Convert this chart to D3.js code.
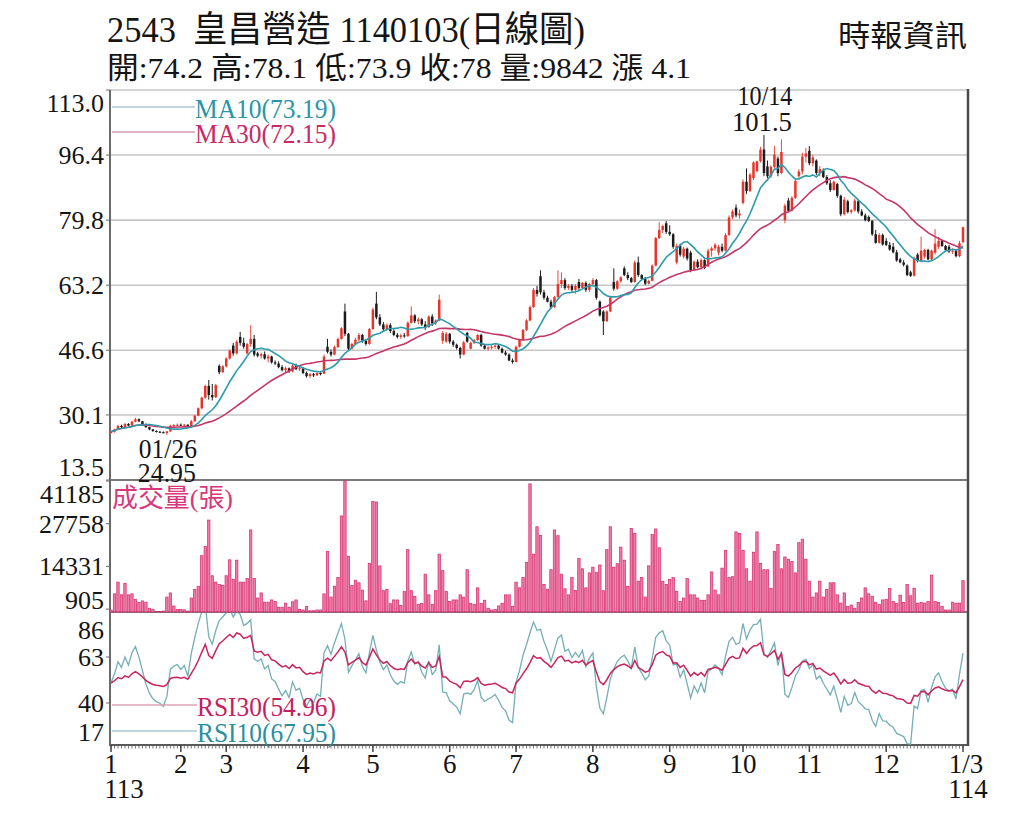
<!DOCTYPE html>
<html>
<head>
<meta charset="utf-8">
<script src="https://cdn.jsdelivr.net/npm/d3@7"></script>
<style>
  body { margin: 0; background: #fff; }
  svg { display: block; }
  text { font-family: "Liberation Serif", "Noto Sans CJK TC", serif; white-space: pre; }
</style>
</head>
<body>
<svg id="chart" width="1024" height="822"></svg>
<script>
// daily candles, [open, high, low, close], 2024-01-02 .. 2025-01-03
const ohlc = [
  // Jan
  [25.6,26.0,25.3,25.8],[25.8,26.6,25.6,26.4],[26.4,27.6,26.2,27.3],[27.3,27.6,26.7,27.0],[27.0,28.0,26.9,27.8],
  [27.8,28.0,27.2,27.4],[27.4,28.6,27.3,28.4],[28.4,29.4,28.2,29.0],[29.0,29.2,28.3,28.5],[28.5,28.6,27.6,27.8],
  [27.8,27.9,26.8,27.0],[27.0,27.1,26.2,26.4],[26.4,26.5,25.8,26.0],[26.0,26.2,25.6,25.8],[25.8,26.0,25.5,25.7],
  [25.7,25.9,25.4,25.5],[25.5,26.0,24.95,25.9],[25.9,27.6,25.8,27.3],[27.3,27.8,27.0,27.5],[27.5,27.9,27.2,27.6],
  // Feb
  [27.6,27.9,27.3,27.4],[27.4,27.8,27.1,27.6],[27.6,27.7,27.0,27.2],[27.2,28.8,27.1,28.5],[28.5,30.2,28.3,29.9],
  [29.9,32.0,29.8,31.8],[31.8,34.8,31.5,34.5],[34.5,37.8,34.2,37.5],[37.5,39.0,34.0,35.2],[35.2,38.0,33.8,34.6],
  [34.6,38.0,34.4,37.7],[42.6,43.0,40.5,41.0],[41.0,42.8,40.8,42.5],
  // Mar
  [42.5,44.8,42.2,44.5],[44.5,46.8,44.2,46.5],[47.8,48.5,45.2,45.8],[45.8,49.2,45.5,48.8],[50.0,51.3,47.8,48.5],
  [48.5,49.8,47.0,47.5],[45.8,48.5,45.5,48.2],[48.2,53.0,47.5,49.5],[49.5,50.5,45.0,45.5],[45.8,46.2,44.8,45.2],
  [45.2,46.0,44.5,45.6],[45.6,46.3,44.2,44.5],[44.5,45.5,43.5,45.0],[45.0,45.2,43.2,43.5],[43.5,44.0,42.8,43.2],
  [43.2,43.8,42.0,42.3],[42.3,42.8,41.2,41.5],[41.5,42.5,41.0,42.0],[42.0,42.2,40.8,41.2],[41.2,43.0,41.0,42.7],
  [42.7,43.2,41.5,41.8],[41.8,42.5,41.3,42.0],
  // Apr
  [42.0,42.3,40.5,40.8],[40.8,41.2,39.6,40.0],[40.0,40.8,39.5,40.5],[40.5,40.8,39.8,40.2],[40.2,41.0,40.0,40.8],
  [40.8,41.2,40.2,40.6],[40.6,45.5,40.5,45.0],[47.5,49.5,45.8,46.2],[46.2,46.8,45.0,45.5],[45.5,47.8,45.3,47.4],
  [47.4,49.8,47.2,49.5],[49.5,52.5,49.3,52.2],[56.5,58.5,50.2,50.8],[50.8,51.0,46.5,47.0],[47.0,48.5,46.8,48.2],
  [48.2,49.8,48.0,49.3],[49.3,51.0,48.8,50.5],[50.5,50.8,48.5,49.0],[49.0,49.5,47.8,48.2],[48.2,52.3,48.0,52.0],
  // May
  [52.0,57.5,51.8,57.0],[58.5,61.5,54.5,55.0],[55.0,55.8,52.8,53.2],[53.2,53.8,51.5,52.0],[52.0,53.5,51.5,53.0],
  [53.0,53.5,51.0,51.5],[51.5,52.0,50.2,50.5],[50.5,51.0,49.6,50.0],[50.0,50.8,49.5,50.4],[50.4,51.0,49.8,50.2],
  [50.2,54.0,50.0,53.6],[53.6,57.8,53.4,55.5],[55.5,55.8,53.5,54.0],[54.0,55.0,53.2,54.5],[54.5,54.8,52.8,53.2],
  [53.2,54.0,51.8,52.5],[52.5,55.5,52.3,55.2],[55.2,55.8,52.8,53.5],[53.5,54.5,53.0,54.2],[54.2,60.8,54.0,59.5],
  [49.0,51.5,48.2,51.0],[48.8,51.3,48.5,50.8],
  // Jun
  [50.8,51.0,48.3,48.8],[48.8,49.2,47.5,48.0],[48.0,48.3,46.8,47.2],[47.2,47.5,44.5,45.5],[45.5,49.0,45.3,48.6],
  [51.0,51.3,48.5,48.8],[47.0,48.8,46.8,48.5],[48.5,49.5,48.2,49.2],[49.2,50.8,49.0,50.5],[50.5,50.8,47.5,47.8],
  [47.8,48.2,46.8,47.0],[47.0,47.6,46.5,47.3],[47.3,48.0,46.8,47.5],[47.5,48.2,47.0,47.8],[47.8,48.0,46.8,47.0],
  [47.0,47.3,45.8,46.0],[46.0,46.5,45.2,45.5],[45.5,45.8,43.8,44.0],[44.0,44.5,43.2,43.6],
  // Jul
  [43.6,47.8,43.5,47.5],[47.5,49.5,47.3,49.2],[49.2,52.0,49.0,51.8],[51.8,54.5,51.5,54.2],[54.2,58.0,54.0,57.6],
  [57.6,62.5,57.4,62.0],[62.0,63.0,60.3,61.0],[65.5,67.0,60.8,61.4],[61.4,62.0,59.5,60.0],[60.0,60.5,58.8,59.0],
  [59.0,59.5,57.2,57.6],[57.6,60.5,57.4,60.2],[60.2,67.0,60.0,63.5],[63.5,66.5,62.5,64.5],[64.5,65.0,62.0,62.5],
  [62.5,63.5,62.0,63.0],[63.0,63.5,61.5,62.0],[62.0,63.5,61.0,63.0],[64.0,64.8,62.0,62.5],[62.5,64.0,62.3,63.8],
  [63.8,64.2,61.5,62.0],[62.0,63.8,61.5,63.5],
  // Aug
  [63.5,65.0,63.2,64.5],[64.5,64.8,59.5,60.0],[59.0,59.3,55.2,55.5],[56.5,56.8,50.5,54.0],[54.0,56.8,53.8,56.5],
  [56.5,60.5,56.3,60.0],[64.0,67.5,61.8,62.3],[62.3,64.5,62.0,64.2],[64.2,65.5,63.8,65.2],[67.5,68.0,65.5,65.8],
  [65.8,66.5,64.5,65.0],[65.0,65.3,63.8,64.0],[64.0,69.5,63.8,69.0],[69.0,70.5,65.3,65.8],[65.8,66.0,64.5,64.8],
  [64.8,65.3,63.2,63.6],[63.6,64.6,63.4,64.3],[64.3,68.5,64.2,68.2],[68.2,75.5,68.0,75.2],[75.2,79.3,75.0,77.3],
  [77.3,78.6,76.5,78.3],[79.0,79.6,76.3,76.8],
  // Sep
  [76.8,78.5,75.8,76.2],[76.2,76.5,72.5,73.0],[69.0,73.8,68.5,73.2],[73.2,73.8,70.5,71.0],[70.5,73.0,70.0,72.5],
  [72.5,72.8,69.5,70.0],[71.5,72.0,66.5,67.0],[67.0,69.5,66.8,69.2],[69.2,69.8,67.5,67.8],[67.8,70.0,67.5,69.6],
  [69.6,69.8,67.3,67.6],[68.0,72.5,67.8,72.0],[72.0,73.0,70.5,72.6],[72.6,74.0,72.0,73.5],[71.5,73.5,70.8,73.0],
  [73.0,73.8,71.6,72.0],[72.0,76.5,71.8,76.0],[76.0,81.0,75.8,80.5],[80.5,82.5,80.0,82.0],[83.0,83.8,80.5,81.0],
  [81.0,82.5,80.2,81.5],
  // Oct
  [84.2,90.2,83.8,89.6],[89.6,93.0,86.5,87.2],[87.2,91.8,87.0,91.4],[90.5,94.8,90.0,94.5],[92.3,95.0,92.0,94.8],
  [94.8,98.5,94.5,97.8],[97.8,101.5,91.0,91.8],[93.5,95.0,90.5,91.0],[91.0,93.8,90.5,93.4],[93.4,98.7,93.0,96.5],
  [95.5,96.0,91.0,91.8],[91.8,100.4,91.5,97.2],[79.8,84.0,79.0,83.5],[84.8,85.5,81.8,82.2],[82.2,85.9,82.0,85.5],
  [85.5,90.2,85.2,89.8],[91.0,92.8,90.5,92.2],[92.2,97.0,91.5,96.0],[96.0,98.2,94.5,96.8],
  // Nov
  [97.5,98.7,93.8,94.3],[94.3,96.5,93.5,95.8],[95.0,95.3,91.3,91.8],[91.8,93.6,91.0,92.8],[92.5,93.0,90.5,90.8],
  [90.8,91.3,88.8,89.2],[89.2,90.0,87.0,87.5],[87.5,89.9,87.3,89.6],[89.0,89.3,85.5,86.0],[86.0,86.3,80.8,81.3],
  [81.3,85.7,81.0,85.0],[84.6,85.0,81.5,81.9],[81.9,82.6,81.4,82.3],[82.3,85.3,82.0,84.8],[84.6,85.0,81.5,82.0],
  [82.0,82.6,80.8,81.0],[81.0,81.5,79.5,79.8],[80.6,81.0,79.3,79.6],[79.6,79.8,75.8,76.2],[76.2,77.3,73.8,74.0],
  [74.0,76.5,73.8,76.0],[76.0,76.4,73.3,73.6],
  // Dec
  [74.5,75.2,73.2,73.5],[73.5,74.2,72.0,72.3],[73.0,74.0,71.3,71.6],[71.6,72.2,69.2,69.5],[69.8,70.2,68.8,69.0],
  [69.0,69.6,68.0,68.4],[68.2,68.5,65.5,65.8],[66.5,66.9,65.3,65.6],[65.6,70.5,65.4,70.0],[71.0,71.4,69.0,69.4],
  [69.4,75.6,69.0,72.0],[70.5,72.5,70.0,72.2],[72.2,72.5,69.5,69.8],[69.8,72.3,69.3,72.0],[71.5,77.5,71.0,73.8],
  [73.0,75.5,72.5,74.5],[74.5,74.8,73.0,73.2],[73.2,73.5,71.8,72.2],[73.0,73.5,71.4,71.8],[71.8,72.6,71.2,72.0],
  [72.0,72.3,70.3,70.6],
  // Jan 2025
  [70.6,74.5,70.3,73.9],[74.2,78.1,73.9,78.0]
];

// daily volume (張)
const volumes = [
  600,5700,9400,5400,9000,5400,5700,4000,3000,3500,3100,1200,850,200,200,300,4700,6000,1900,850,
  800,700,300,4400,7100,8100,17700,20600,28900,11400,9400,8700,8300,
  11400,16400,10300,16300,9400,9400,10500,25800,10500,4400,6000,3100,3100,3800,3300,1500,1500,2800,1500,3200,3800,850,
  640,1700,400,400,640,640,5700,19000,4700,8100,10800,30200,41185,17500,8300,10000,9200,6900,3500,15300,
  34800,34600,14500,6700,7100,2600,3800,3800,2100,6400,19600,6700,4900,2400,2700,11900,5400,2400,6700,18200,13000,6400,
  3300,3800,3800,5400,4700,13300,2700,2400,7600,2700,3700,1200,640,850,1900,2700,5400,5400,1700,
  9400,7600,10800,15600,40300,18200,26800,24100,8700,7100,13300,25800,24000,11900,7300,5400,10800,6800,16800,13600,7600,12300,
  14100,12400,14800,6700,19600,26800,14100,15200,20400,16300,8100,26300,24700,9700,10800,4700,14500,24400,26100,20200,9700,8700,
  10300,10800,6500,3300,4400,10500,5400,5400,4400,3700,3700,5400,12600,6900,5400,13800,19400,10800,11100,25200,24700,
  19400,13600,9700,18800,25200,15300,13300,13300,7400,19000,21200,13600,17300,16600,15900,12300,21800,22900,16600,
  9700,4700,6000,9700,4700,7100,9200,9200,5400,2800,6000,1700,2200,1200,3000,4400,7600,5700,4900,3000,2400,3800,
  4000,7400,3300,2700,5300,3000,8600,5100,7500,2800,3000,2800,3300,11600,3300,3000,1700,640,640,3100,2800,2800,9842
];

const priceTicks = [113.0, 96.4, 79.8, 63.2, 46.6, 30.1, 13.5];
const volumeTicks = [41185, 27758, 14331, 905];
const rsiTicks = [86, 63, 40, 17];
const monthLabels = ["1","2","3","4","5","6","7","8","9","10","11","12","1/3"];
const monthIndex = [0, 20, 33, 55, 75, 97, 116, 138, 160, 181, 200, 222, 244];
const yearLabels = ["113", "114"];

const closes = ohlc.map(d => d[3]);

// moving average over the last n closes
function sma(n) {
  return closes.map((c, i) => d3.mean(closes.slice(Math.max(0, i - n + 1), i + 1)));
}

// Wilder RSI, started from a neutral level
function rsi(n) {
  const diffs = closes.slice(1).map((v, i) => v - closes[i]);
  const m = d3.mean(diffs.slice(0, n), Math.abs) / 2;
  let up = m, dn = m;
  return closes.map((c, i) => {
    if (i > 0) {
      const d = diffs[i - 1];
      up = (up * (n - 1) + Math.max(d, 0)) / n;
      dn = (dn * (n - 1) + Math.max(-d, 0)) / n;
    }
    return 100 * up / (up + dn);
  });
}

const ma10 = sma(10), ma30 = sma(30);
const rsi10 = rsi(10), rsi30 = rsi(30);

const svg = d3.select('#chart');
const left = 110, right = 968;

const x = d3.scaleLinear().domain([0, ohlc.length - 1]).range([111, 963]);
const yP = d3.scaleLinear().domain([13.5, 113.0]).range([480, 90]);
const yV = d3.scaleLinear().domain([0, 41185]).range([612, 481]);
const yR = d3.scaleLinear().domain([19, 85.5]).range([745, 612]);

// clip areas for the price and RSI panels
const defs = svg.append('defs');
defs.append('clipPath').attr('id', 'clipP').append('rect')
  .attr('x', left).attr('y', 90).attr('width', right - left).attr('height', 390);
defs.append('clipPath').attr('id', 'clipR').append('rect')
  .attr('x', left).attr('y', 613).attr('width', right - left).attr('height', 132);

function addText(px, py, str, size, opt = {}) {
  const t = svg.append('text')
    .attr('x', px).attr('y', py)
    .attr('font-size', size)
    .attr('text-anchor', opt.anchor || 'start')
    .attr('fill', opt.fill || '#141414')
    .text(str);
  if (opt.width) t.attr('textLength', opt.width).attr('lengthAdjust', 'spacingAndGlyphs');
  return t;
}

// ---- header ----
addText(107, 42, '2543  皇昌營造 1140103(日線圖)', 36, {width: 478});
addText(107, 78, '開:74.2 高:78.1 低:73.9 收:78 量:9842 漲 4.1', 30, {width: 584});
addText(838, 46, '時報資訊', 30, {width: 129});

// ---- grid and frame ----
svg.append('g').selectAll('line').data(priceTicks).join('line')
  .attr('x1', left).attr('x2', right)
  .attr('y1', d => yP(d)).attr('y2', d => yP(d))
  .attr('stroke', '#c6c6c6').attr('stroke-width', 1.6);

[480, 612].forEach(yy => {
  svg.append('line').attr('x1', left).attr('x2', right).attr('y1', yy).attr('y2', yy)
    .attr('stroke', '#7a7a7a').attr('stroke-width', 2);
});
svg.append('line').attr('x1', left).attr('x2', right).attr('y1', 745).attr('y2', 745)
  .attr('stroke', '#5a5a5a').attr('stroke-width', 2);
svg.append('line').attr('x1', left).attr('x2', left).attr('y1', 90).attr('y2', 746)
  .attr('stroke', '#6a6a6a').attr('stroke-width', 2);
svg.append('line').attr('x1', right).attr('x2', right).attr('y1', 89).attr('y2', 746)
  .attr('stroke', '#4a4a4a').attr('stroke-width', 2.5);

// ---- price panel ----
const gP = svg.append('g').attr('clip-path', 'url(#clipP)');
const up = d => d[3] >= d[0];
const candles = gP.selectAll('g.candle').data(ohlc).join('g').attr('class', 'candle');
candles.append('line')
  .attr('x1', (d, i) => x(i)).attr('x2', (d, i) => x(i))
  .attr('y1', d => yP(d[1])).attr('y2', d => yP(d[2]))
  .attr('stroke', d => up(d) ? '#ea4a3c' : '#1c1c1c').attr('stroke-width', 1);
candles.append('rect')
  .attr('x', (d, i) => x(i) - 1.25).attr('width', 2.5)
  .attr('y', d => yP(Math.max(d[0], d[3])))
  .attr('height', d => Math.max(1, Math.abs(yP(d[0]) - yP(d[3]))))
  .attr('fill', d => up(d) ? '#e8352b' : '#1c1c1c');

const line = y => d3.line().x((d, i) => x(i)).y(d => y(d));
gP.append('path').datum(ma30).attr('d', line(yP))
  .attr('fill', 'none').attr('stroke', '#c5376a').attr('stroke-width', 1.6);
gP.append('path').datum(ma10).attr('d', line(yP))
  .attr('fill', 'none').attr('stroke', '#2d9bab').attr('stroke-width', 1.6);

// extremes
const iMax = d3.maxIndex(ohlc, d => d[1]);
const iMin = d3.minIndex(ohlc, d => d[2]);
addText(x(iMax) + 1, 105, '10/14', 27, {anchor: 'middle', width: 55});
addText(x(iMax) - 2, 131, String(ohlc[iMax][1]), 27, {anchor: 'middle', width: 60});
addText(x(iMin) + 1, 458, '01/26', 28, {anchor: 'middle', width: 58});
addText(x(iMin), 482, String(ohlc[iMin][2]), 28, {anchor: 'middle', width: 58});

// legend
svg.append('line').attr('x1', 112).attr('x2', 195).attr('y1', 107).attr('y2', 107)
  .attr('stroke', '#a9c8cc').attr('stroke-width', 1.3);
svg.append('line').attr('x1', 112).attr('x2', 195).attr('y1', 132).attr('y2', 132)
  .attr('stroke', '#d89cb0').attr('stroke-width', 1.3);
addText(195, 118, 'MA10(73.19)', 27, {fill: '#2a95a6', width: 141});
addText(195, 143, 'MA30(72.15)', 27, {fill: '#c62a66', width: 141});

// ---- volume panel ----
svg.append('g').selectAll('rect').data(volumes).join('rect')
  .attr('x', (d, i) => x(i) - 1.2).attr('width', 2.4)
  .attr('y', d => yV(d)).attr('height', d => yV(0) - yV(d))
  .attr('fill', '#f07aa6').attr('stroke', '#d22a6a').attr('stroke-width', 0.7);
addText(112, 507, '成交量(張)', 26, {fill: '#d8377a', width: 121});

// ---- RSI panel ----
const gR = svg.append('g').attr('clip-path', 'url(#clipR)');
gR.append('path').datum(rsi10).attr('d', line(yR))
  .attr('fill', 'none').attr('stroke', '#74aeb6').attr('stroke-width', 1.3);
gR.append('path').datum(rsi30).attr('d', line(yR))
  .attr('fill', 'none').attr('stroke', '#c8245e').attr('stroke-width', 1.5);
svg.append('line').attr('x1', 112).attr('x2', 197).attr('y1', 705).attr('y2', 705)
  .attr('stroke', '#dba2b6').attr('stroke-width', 1.3);
svg.append('line').attr('x1', 112).attr('x2', 197).attr('y1', 731).attr('y2', 731)
  .attr('stroke', '#a6c8cc').attr('stroke-width', 1.3);
addText(197, 716, 'RSI30(54.96)', 27, {fill: '#c42060', width: 139});
addText(197, 742, 'RSI10(67.95)', 27, {fill: '#2a8fa0', width: 139});

// ---- left axis labels ----
const clamp = (v, lo, hi) => Math.max(lo, Math.min(hi, v));
priceTicks.forEach(t => {
  addText(104, clamp(yP(t), 103, 467) + 9, t.toFixed(1), 26, {anchor: 'end'});
});
volumeTicks.forEach(t => {
  addText(104, clamp(yV(t), 494, 600) + 9, String(t), 26, {anchor: 'end'});
});
rsiTicks.forEach(t => {
  addText(104, clamp(yR(t), 630, 732) + 9, String(t), 26, {anchor: 'end'});
});
svg.append('g').selectAll('line')
  .data(priceTicks.map(yP).concat(volumeTicks.map(yV), rsiTicks.map(yR).filter(v => v > 612 && v < 745)))
  .join('line')
  .attr('x1', left - 4).attr('x2', left).attr('y1', d => d).attr('y2', d => d)
  .attr('stroke', '#6a6a6a').attr('stroke-width', 1);

// ---- bottom axis ----
svg.append('g').selectAll('line').data(d3.range(ohlc.length)).join('line')
  .attr('x1', d => x(d)).attr('x2', d => x(d))
  .attr('y1', 746).attr('y2', 748.5)
  .attr('stroke', '#555').attr('stroke-width', 0.8);
svg.append('g').selectAll('line').data(monthIndex).join('line')
  .attr('x1', d => x(d)).attr('x2', d => x(d))
  .attr('y1', 745).attr('y2', 752)
  .attr('stroke', '#444').attr('stroke-width', 1.5);
monthLabels.forEach((m, k) => {
  addText(x(monthIndex[k]) + (k === monthLabels.length - 1 ? 3 : 0), 773, m, 27, {anchor: 'middle'});
});
addText(x(0) + 13, 798, yearLabels[0], 27, {anchor: 'middle'});
addText(x(ohlc.length - 1) + 5, 798, yearLabels[1], 27, {anchor: 'middle'});
</script>
</body>
</html>
